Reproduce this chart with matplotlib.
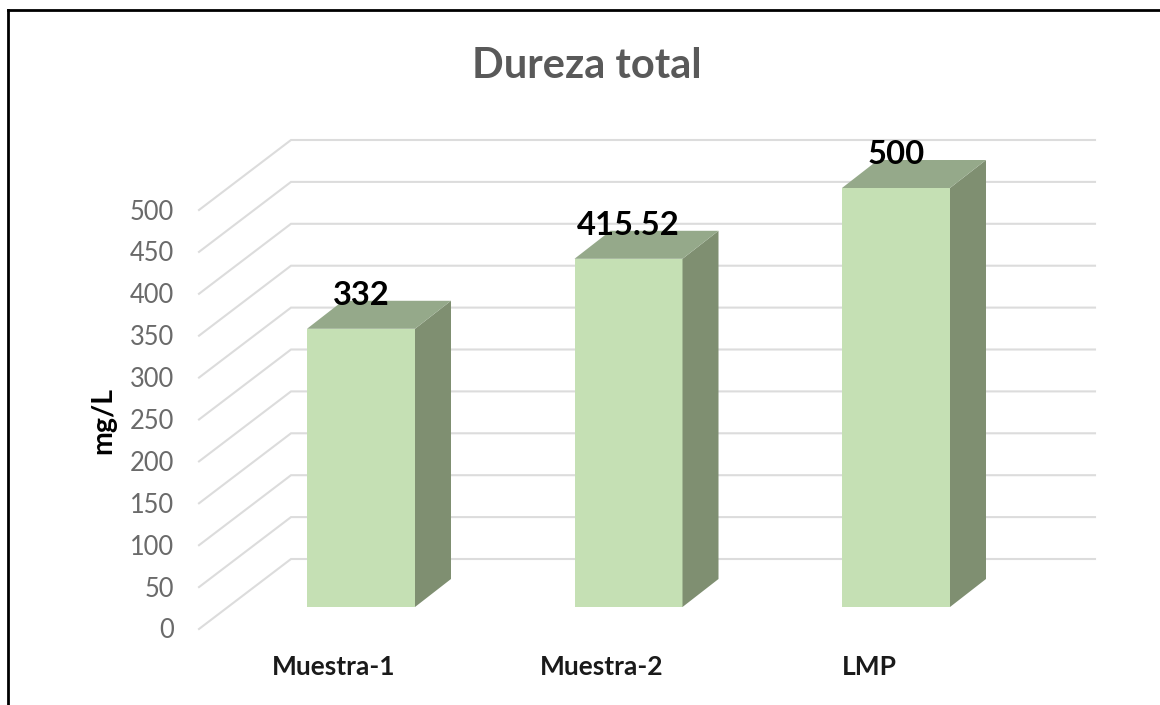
import matplotlib
matplotlib.use("Agg")
import matplotlib.pyplot as plt
from matplotlib.patches import Polygon, Rectangle

categories = ["Muestra-1", "Muestra-2", "LMP"]
values = [332, 415.52, 500]
value_labels = ["332", "415.52", "500"]
ticks = [0, 50, 100, 150, 200, 250, 300, 350, 400, 450, 500]

W, H = 1160, 705
PX_PER_CAT = 267.5
PX_PER_VAL = 0.838
X0_PX, Y0_PX = 361, 607      # centre of first bar, floor of the bar plane


def dx(px):
    return px / PX_PER_CAT


def dy(px):
    return px / PX_PER_VAL


fig = plt.figure(figsize=(W / 100, H / 100), dpi=100, facecolor="white")
ax = fig.add_axes([0, 0, 1, 1])
ax.set_xlim(-X0_PX / PX_PER_CAT, (W - X0_PX) / PX_PER_CAT)
ax.set_ylim((Y0_PX - H) / PX_PER_VAL, Y0_PX / PX_PER_VAL)
ax.axis("off")

GRID = "#DCDCDC"
FONT = "Lato"
bar_w = dx(108)
d_x, d_y = dx(36), dy(28)

# Gridlines: front edge of the floor/wall, then along the back wall
x_front, x_back, x_end = dx(199 - X0_PX), dx(291 - X0_PX), dx(1095 - X0_PX)
y_front, y_back = dy(607 - 629), dy(607 - 559)
for t in ticks:
    ax.plot([x_front, x_back, x_end], [t + y_front, t + y_back, t + y_back],
            color=GRID, lw=1.5, solid_joinstyle="miter", zorder=1)
    ax.text(dx(174 - X0_PX), t + dy(607 - 631), str(t), ha="right", va="center",
            fontsize=18.4, color="#6A6A6A", family=FONT, zorder=5)

# 3-D bars
for i, (v, cat, lab) in enumerate(zip(values, categories, value_labels)):
    l, r = i - bar_w / 2, i + bar_w / 2
    ax.add_patch(Rectangle((l, 0), bar_w, v, fc="#C5E0B4", ec="none", zorder=3))
    ax.add_patch(Polygon([(r, 0), (r + d_x, d_y), (r + d_x, v + d_y), (r, v)],
                         fc="#7F8F71", ec="none", zorder=3))
    ax.add_patch(Polygon([(l, v), (r, v), (r + d_x, v + d_y), (l + d_x, v + d_y)],
                         fc="#95A98A", ec="none", zorder=3))
    ax.text(i, v + dy(33), lab, ha="center", va="center", fontsize=23.6,
            fontweight="bold", color="black", family=FONT, zorder=6)
    ax.text(i + dx(-27), dy(607 - 667), cat, ha="center", va="center", fontsize=19,
            fontweight="bold", color="#1a1a1a", family=FONT, zorder=6)

# Title and axis title
ax.text(dx(587 - X0_PX), dy(607 - 66), "Dureza total", ha="center", va="center",
        fontsize=30, fontweight="bold", color="#595959", family=FONT)
ax.text(dx(103 - X0_PX), dy(607 - 420), "mg/L", ha="center", va="center", rotation=90,
        fontsize=20.5, fontweight="bold", color="black", family=FONT)

# Frame: top and left only
ax.plot([dx(8 - X0_PX), dx(8 - X0_PX)], [dy(607 - 705), dy(607 - 10)], color="black", lw=2)
ax.plot([dx(8 - X0_PX), dx(1160 - X0_PX)], [dy(607 - 10), dy(607 - 10)], color="black", lw=2)

fig.savefig("out.png", dpi=100)
